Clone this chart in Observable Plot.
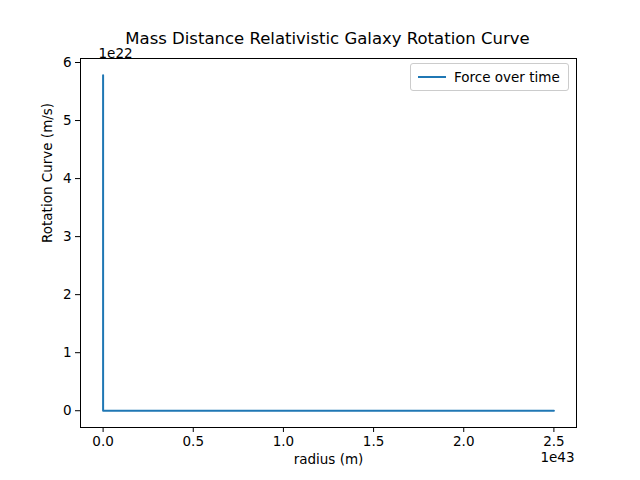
<!DOCTYPE html>
<html><head><meta charset="utf-8">
<script src="https://cdn.jsdelivr.net/npm/d3@7"></script>
<script src="https://cdn.jsdelivr.net/npm/@observablehq/plot@0.6"></script>
<style>
body{margin:0;background:#fff;font-family:"DejaVu Sans",sans-serif}
#wrap{position:relative;width:640px;height:480px}
#legend{position:absolute;left:410px;top:63px;width:157px;height:26px;border:1px solid #ccc;border-radius:3px;background:#fff;font-size:13.5px;display:flex;align-items:center}
#legend span.sw{display:inline-block;width:28px;height:0;border-top:2px solid #1f77b4;margin:0 8px 0 7px}
</style></head>
<body><div id="wrap"><div id="chart"></div><div id="legend"><span class="sw"></span>Force over time</div></div>
<script>
const radius = [0, 1e39, 5e42, 1e43, 1.5e43, 2e43, 2.5e43]
const rotation = [5.78e22, 0, 0, 0, 0, 0, 0]
const xTicks = [0, 0.5e43, 1e43, 1.5e43, 2e43, 2.5e43]
const yTicks = [0, 1e22, 2e22, 3e22, 4e22, 5e22, 6e22]
const title = 'Mass Distance Relativistic Galaxy Rotation Curve'

const data = radius.map((r, i) => ({r, v: rotation[i]}))

let chart = Plot.plot({
    width: 640,
    height: 480,
    marginLeft: 80,
    marginRight: 64,
    marginTop: 58,
    marginBottom: 53,
    style: {fontFamily: '"DejaVu Sans", sans-serif', fontSize: '13.5px', color: '#000', background: '#fff'},
    x: {domain: [-0.1253e43, 2.6253e43], label: null},
    y: {domain: [-0.289e22, 6.069e22], label: null},
    marks: [
        Plot.frame({stroke: '#000'}),
        Plot.line(data, {x: 'r', y: 'v', stroke: '#1f77b4', strokeWidth: 2}),
        Plot.axisX({ticks: xTicks, tickFormat: d => d3.format('.1f')(d / 1e43), tickSize: 5, label: null}),
        Plot.axisY({ticks: yTicks, tickFormat: d => String(Math.round(d / 1e22)), tickSize: 5, label: null}),
        Plot.text([title], {frameAnchor: 'top', dy: -15, dx: -1, fontSize: 16.5, lineAnchor: 'bottom', text: d => d}),
        Plot.text(['1e22'], {frameAnchor: 'top-left', dy: -10, dx: 18, text: d => d}),
        Plot.text(['1e43'], {frameAnchor: 'bottom-right', dy: 34, dx: -2, text: d => d}),
        Plot.text(['radius (m)'], {frameAnchor: 'bottom', dy: 36, text: d => d}),
        Plot.text(['Rotation Curve (m/s)'], {frameAnchor: 'left', dx: -33, rotate: -90, text: d => d})
    ]
})

d3.select('#chart').append(() => chart)
</script>
</body></html>
